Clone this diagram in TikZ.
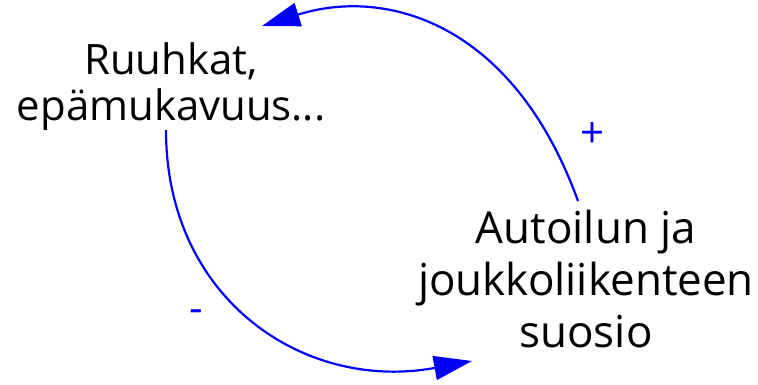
\documentclass[tikz,border=0pt]{standalone}
\usepackage{fontspec}
\setmainfont{Open Sans}
\usetikzlibrary{arrows.meta}
\tikzset{
  label txt/.style={font=\fontsize{41.9}{46}\selectfont, align=center, text=black, inner sep=0pt},
  label txtb/.style={font=\fontsize{44}{51.7}\selectfont, align=center, text=black, inner sep=0pt},
  sign/.style={font=\fontsize{42}{44}\selectfont, text=blue, inner sep=0pt},
  link/.style={draw=blue, line width=2.2pt, -{Triangle[length=38pt,width=24pt]}, fill=none}
}
\begin{document}
\begin{tikzpicture}[x=1pt,y=-1pt]
\useasboundingbox (0,0) rectangle (758,384);
\node[label txt, anchor=base] (A) at (171,120) {Ruuhkat,\\epämukavuus...};
\node[label txtb, anchor=base] (B) at (586,347) {Autoilun ja\\joukkoliikenteen\\suosio};
\coordinate (a0) at (166,130);
\coordinate (a1) at (472,361);
\coordinate (b0) at (578,201);
\coordinate (b1) at (262,26);
\draw[link] (b0) .. controls (513,22) and (385.5,-13) .. (b1);
\draw[link] (a0) .. controls (166,300) and (305,392) .. (a1);
\node[sign] (plus) at (592.5,135) {+};
\node[sign] (minus) at (196,316) {-};
\end{tikzpicture}
\end{document}
